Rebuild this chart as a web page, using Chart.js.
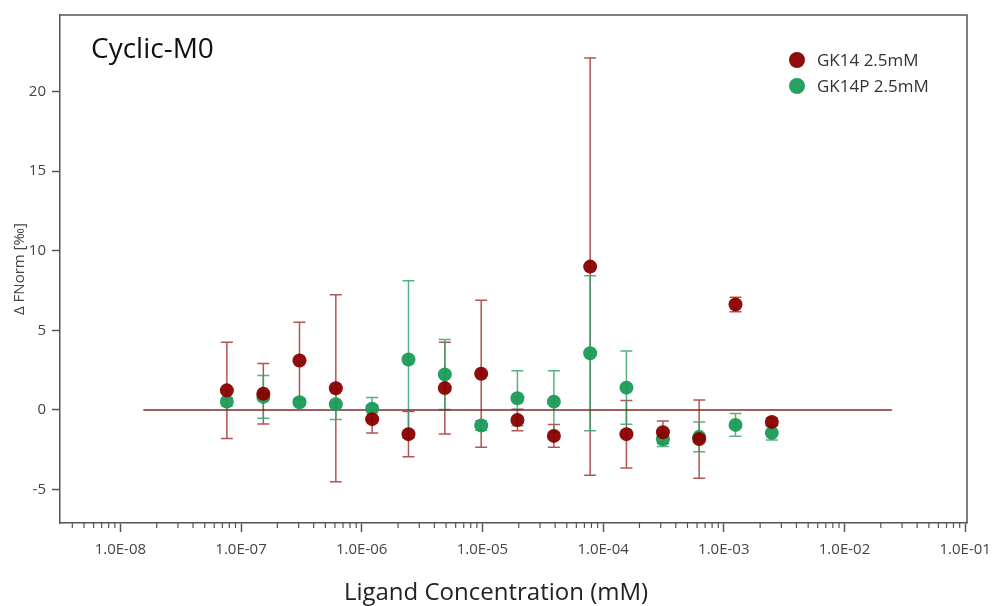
<!DOCTYPE html>
<html>
<head>
<meta charset="utf-8">
<script src="https://cdn.jsdelivr.net/npm/chart.js@4"></script>
<style>
  html, body { margin: 0; padding: 0; background: #fff; }
  canvas { display: block; }
</style>
</head>
<body>
<canvas id="chart" width="992" height="606"></canvas>
<script>
// ligand concentration (mM), 2-fold dilution series
const conc = [7.63e-8, 1.53e-7, 3.05e-7, 6.10e-7, 1.22e-6, 2.44e-6, 4.88e-6, 9.77e-6,
              1.95e-5, 3.91e-5, 7.81e-5, 1.56e-4, 3.13e-4, 6.25e-4, 1.25e-3, 2.5e-3];

const gk14 = [1.23, 1.02, 3.1, 1.36, -0.58, -1.52, 1.37, 2.27, -0.63, -1.63, 9.0, -1.52, -1.4, -1.83, 6.62, -0.75];
const gk14Err = [3.02, 1.9, 2.4, 5.87, 0.87, 1.42, 2.88, 4.62, 0.68, 0.72, 13.1, 2.12, 0.7, 2.46, 0.45, 0.25];

const gk14p = [0.52, 0.82, 0.48, 0.36, 0.08, 3.17, 2.23, -0.98, 0.73, 0.52, 3.56, 1.4, -1.84, -1.69, -0.94, -1.44];
const gk14pErr = [0.25, 1.35, 0.2, 0.96, 0.7, 4.95, 2.2, 0.3, 1.73, 1.94, 4.86, 2.3, 0.45, 0.94, 0.72, 0.45];

// fit line (flat at zero)
const fitX = [1.55e-8, 2.47e-2];
const fitY = [0, 0];

const xTickValues = [1e-8, 1e-7, 1e-6, 1e-5, 1e-4, 1e-3, 1e-2, 1e-1];
const xTickLabels = ['1.0E-08', '1.0E-07', '1.0E-06', '1.0E-05', '1.0E-04', '1.0E-03', '1.0E-02', '1.0E-01'];
const yTickValues = [-5, 0, 5, 10, 15, 20];

const FONT = '"Open Sans", "Noto Sans", sans-serif';
const RED = 'rgba(137,0,0,0.95)';
const GREEN = 'rgba(28,155,90,0.95)';

function toPoints(xs, ys) {
  return xs.map((x, i) => ({ x: x, y: ys[i] }));
}

// error bars drawn under the points
const errorBars = {
  id: 'errorBars',
  beforeDatasetsDraw(chart) {
    const ctx = chart.ctx;
    const xs = chart.scales.x, ys = chart.scales.y;
    ctx.save();
    chart.data.datasets.forEach(ds => {
      if (!ds.errors) return;
      ctx.strokeStyle = ds.errorColor;
      ctx.lineWidth = 1.5;
      ds.data.forEach((p, i) => {
        const px = xs.getPixelForValue(p.x);
        const top = ys.getPixelForValue(p.y + ds.errors[i]);
        const bot = ys.getPixelForValue(p.y - ds.errors[i]);
        ctx.beginPath();
        ctx.moveTo(px, top); ctx.lineTo(px, bot);
        ctx.moveTo(px - 6, top); ctx.lineTo(px + 6, top);
        ctx.moveTo(px - 6, bot); ctx.lineTo(px + 6, bot);
        ctx.stroke();
      });
    });
    ctx.restore();
  }
};

// frame, minor log ticks, titles and legend
const decorations = {
  id: 'decorations',
  afterDraw(chart) {
    const ctx = chart.ctx;
    const a = chart.chartArea;
    const xs = chart.scales.x;
    ctx.save();
    ctx.strokeStyle = '#555';
    ctx.lineWidth = 1.5;
    ctx.beginPath();
    ctx.moveTo(a.left, a.top); ctx.lineTo(a.right, a.top); ctx.lineTo(a.right, a.bottom);
    ctx.stroke();

    ctx.lineWidth = 1.2;
    ctx.beginPath();
    for (let d = -9; d <= -2; d++) {
      for (let m = 2; m <= 9; m++) {
        const v = m * Math.pow(10, d);
        if (v < xs.min || v > xs.max) continue;
        const px = xs.getPixelForValue(v);
        ctx.moveTo(px, a.bottom); ctx.lineTo(px, a.bottom + 5);
      }
    }
    ctx.stroke();

    ctx.fillStyle = '#111';
    ctx.font = '28px ' + FONT;
    ctx.textBaseline = 'alphabetic';
    ctx.fillText('Cyclic-M0', a.left + 31, a.top + 43);

    // x axis title, centred on the page like the original
    ctx.fillStyle = '#222';
    ctx.font = '24px ' + FONT;
    ctx.textAlign = 'center';
    ctx.textBaseline = 'middle';
    ctx.fillText('Ligand Concentration (mM)', chart.width / 2, 593);
    ctx.textAlign = 'left';

    ctx.font = '17px ' + FONT;
    chart.data.datasets.filter(ds => ds.errors).forEach((ds, i) => {
      const cy = a.top + 45 + i * 26;
      const cx = a.right - 170;
      ctx.fillStyle = ds.backgroundColor;
      ctx.beginPath();
      ctx.arc(cx, cy, 8, 0, Math.PI * 2);
      ctx.fill();
      ctx.fillStyle = '#333';
      ctx.fillText(ds.label, cx + 20, cy + 1);
    });
    ctx.restore();
  }
};

new Chart(document.getElementById('chart'), {
  type: 'scatter',
  data: {
    datasets: [
      {
        label: 'GK14 2.5mM',
        data: toPoints(conc, gk14),
        errors: gk14Err,
        errorColor: 'rgba(165,55,55,0.85)',
        backgroundColor: RED,
        borderColor: RED,
        borderWidth: 0,
        pointRadius: 7
      },
      {
        label: 'GK14P 2.5mM',
        data: toPoints(conc, gk14p),
        errors: gk14pErr,
        errorColor: 'rgba(55,165,112,0.85)',
        backgroundColor: GREEN,
        borderColor: GREEN,
        borderWidth: 0,
        pointRadius: 7
      },
      {
        type: 'line',
        label: 'fit',
        data: toPoints(fitX, fitY),
        borderColor: 'rgba(120,30,30,0.95)',
        borderWidth: 1.5,
        pointRadius: 0,
        fill: false
      }
    ]
  },
  options: {
    responsive: false,
    animation: false,
    events: [],
    layout: { padding: { top: 12, right: 25, bottom: 0, left: 0 } },
    plugins: {
      legend: { display: false },
      tooltip: { enabled: false }
    },
    scales: {
      x: {
        type: 'logarithmic',
        min: Math.pow(10, -8.5),
        max: Math.pow(10, -0.985),
        afterBuildTicks: scale => { scale.ticks = xTickValues.map(v => ({ value: v })); },
        afterFit: scale => { scale.height = 83; scale.paddingLeft = 0; scale.paddingRight = 0; },
        ticks: {
          autoSkip: false,
          maxRotation: 0,
          padding: 9,
          color: '#444',
          font: { family: FONT, size: 15 },
          callback: (v, i) => xTickLabels[i]
        },
        grid: { drawOnChartArea: false, drawTicks: true, tickLength: 9, tickColor: '#555', tickWidth: 1.5 },
        border: { display: true, color: '#555', width: 1.5 }
      },
      y: {
        min: -7.1,
        max: 24.8,
        afterBuildTicks: scale => { scale.ticks = yTickValues.map(v => ({ value: v })); },
        afterFit: scale => { scale.width = 60; },
        ticks: {
          padding: 6,
          color: '#444',
          font: { family: FONT, size: 15 }
        },
        grid: { drawOnChartArea: false, drawTicks: true, tickLength: 8, tickColor: '#555', tickWidth: 1.5 },
        border: { display: true, color: '#555', width: 1.5 },
        title: {
          display: true,
          text: 'Δ FNorm [‰]',
          color: '#444',
          font: { family: FONT, size: 15 },
          padding: { top: 11, bottom: 0 }
        }
      }
    }
  },
  plugins: [errorBars, decorations]
});
</script>
</body>
</html>
